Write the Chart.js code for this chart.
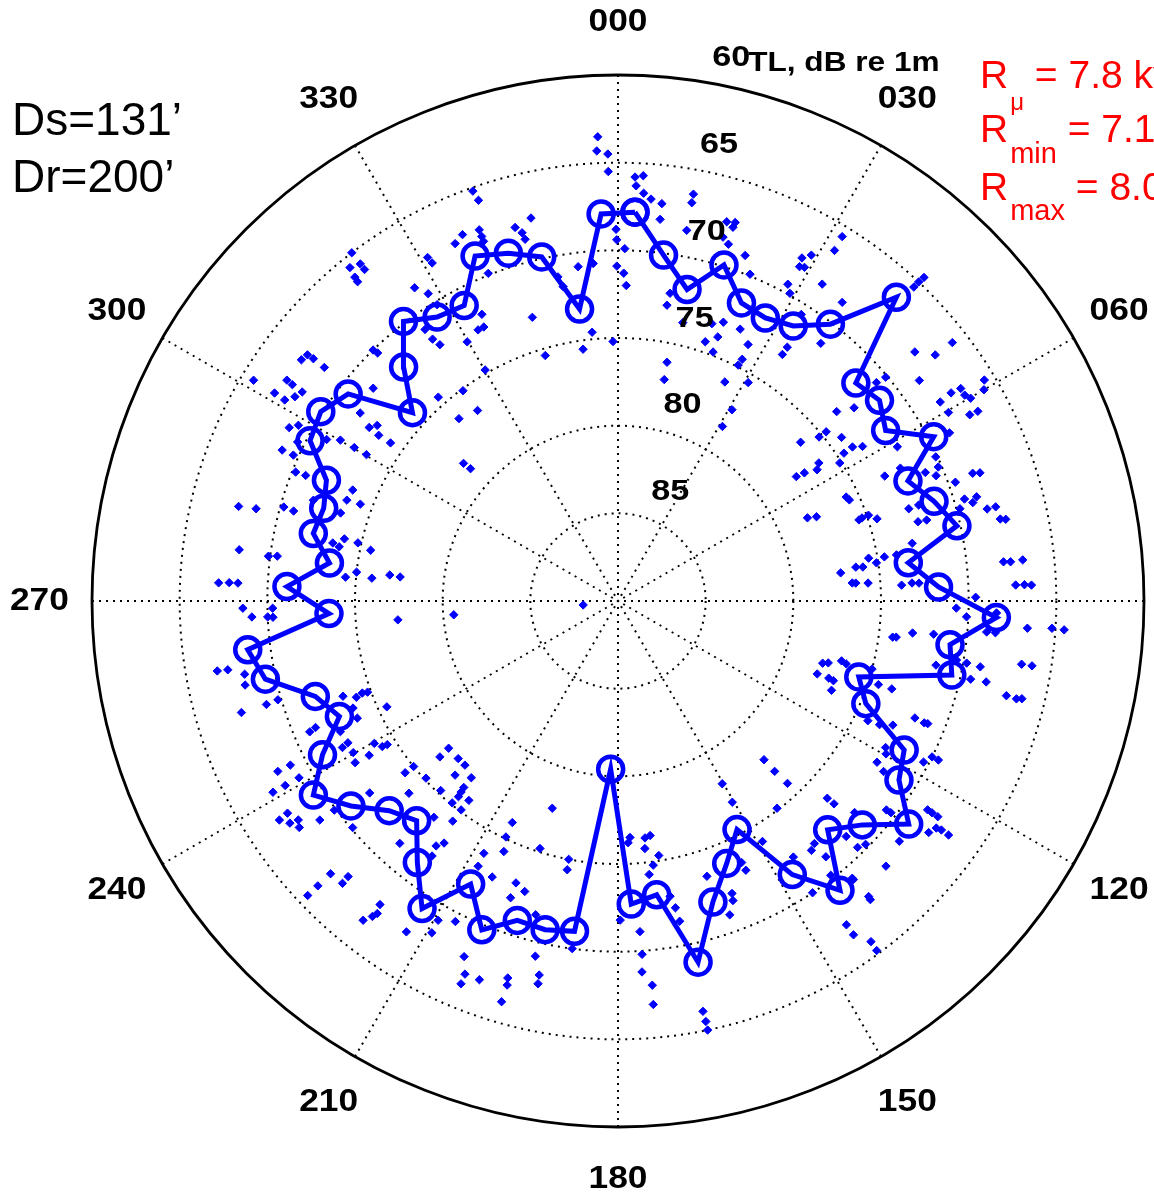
<!DOCTYPE html>
<html>
<head>
<meta charset="utf-8">
<script src="https://cdn.jsdelivr.net/npm/chart.js@4.4.1/dist/chart.umd.min.js"></script>
<style>
  html, body { margin: 0; padding: 0; background: #ffffff; overflow: hidden; }
  #tl { display: block; }
</style>
</head>
<body>
<canvas id="tl" width="1154" height="1197" style="width:1154px;height:1197px"></canvas>
<script>
// Polar transmission-loss plot: bearing in degrees clockwise from north, level in dB re 1 m.
// The radial axis is inverted: 90 dB at the centre, 60 dB on the outer circle.
const centreLevel = 90;
const outerLevel = 60;
const ringLevels = [85, 80, 75, 70, 65];
const spokeBearings = [0, 30, 60, 90, 120, 150];
const bearingTicks = [0, 30, 60, 90, 120, 150, 180, 210, 240, 270, 300, 330];
const bearingTickLabels = ['000', '030', '060', '090', '120', '150', '180', '210', '240', '270', '300', '330'];

// Averaged level per 5-degree bin
const meanBearingDeg = [
  2.5, 7.5, 12.5, 17.5, 22.5, 27.5, 32.5, 37.5, 42.5, 47.5,
  52.5, 57.5, 62.5, 67.5, 72.5, 77.5, 82.5, 87.5, 92.5, 97.5,
  102.5, 107.5, 112.5, 117.5, 122.5, 127.5, 132.5, 137.5, 142.5, 147.5,
  152.5, 157.5, 162.5, 167.5, 172.5, 177.5, 182.5, 187.5, 192.5, 197.5,
  202.5, 207.5, 212.5, 217.5, 222.5, 227.5, 232.5, 237.5, 242.5, 247.5,
  252.5, 257.5, 262.5, 267.5, 272.5, 277.5, 282.5, 287.5, 292.5, 297.5,
  302.5, 307.5, 312.5, 317.5, 322.5, 327.5, 332.5, 337.5, 342.5, 347.5,
  352.5, 357.5
];
const meanLevelDb = [
  67.8, 70.1, 71.8, 69.9, 71.6, 71.8, 71.4, 70.1, 66.5, 71.6,
  71.2, 71.9, 69.7, 72.1, 71.1, 70.2, 73.3, 71.7, 68.4, 70.9,
  70.5, 75.6, 74.7, 71.6, 71.0, 69.1, 71.1, 72.3, 69.2, 71.5,
  75.3, 73.8, 72.0, 68.9, 73.1, 72.7, 80.4, 71.0, 70.8, 70.9,
  69.7, 71.8, 69.2, 71.2, 73.0, 72.3, 70.8, 69.4, 71.0, 72.8,
  71.9, 69.4, 68.7, 73.5, 71.1, 73.4, 72.2, 72.4, 72.0, 70.2,
  69.9, 70.6, 74.1, 71.9, 69.9, 70.8, 71.0, 68.7, 69.2, 69.9,
  73.2, 67.9
];

// Individual readings [bearing deg, level dB]
const sampleReadings = [
  [322.6,65.0],[322.6,65.8],[321.2,65.6],[322.6,66.2],[320.9,66.2],[320.8,66.5],
  [357.5,63.5],[357.3,64.3],[358.7,64.5],[358.7,65.5],[340.5,65.2],[340.8,65.8],[347.2,67.6],[337.0,67.3],
  [335.5,67.6],[339.5,67.4],[339.5,67.8],[339.5,68.1],[344.6,67.9],[345.4,68.3],[345.6,68.7],[331.0,67.6],
  [331.2,68.0],[327.0,68.7],[328.3,69.4],[338.4,69.9],[353.2,70.8],[355.8,70.7],[359.7,68.8],[359.8,69.4],
  [1.1,69.9],[359.8,70.9],[1.0,71.3],[1.5,72.0],[2.3,65.8],[3.4,65.7],[2.5,66.3],[3.6,66.7],[4.7,67.0],
  [6.3,67.2],[6.3,68.1],[10.5,66.4],[10.5,66.9],[10.5,68.5],[16.0,67.5],[17.2,67.4],[17.1,67.7],[16.1,68.4],
  [17.2,68.7],[20.2,69.0],[22.0,69.9],[9.6,72.2],[349.5,71.2],[350.1,71.8],
  [31.6,65.6],[31.7,66.5],[28.2,67.8],[29.2,67.4],[28.5,68.3],[29.2,68.2],[28.2,69.5],[32.8,68.5],[29.2,69.9],
  [43.4,64.6],[43.3,65.0],[43.3,65.4],
  [307.3,67.3],[308.4,67.4],[308.5,67.8],[308.5,68.6],[301.2,65.7],[301.2,67.1],[303.7,67.3],[303.6,67.7],
  [303.5,68.4],[302.3,68.2],[301.1,67.8],[315.7,70.0],[315.9,70.3],[311.0,71.5],[306.1,71.8],[304.9,72.7],
  [306.1,73.0],[304.7,73.4],[297.8,68.8],[298.8,69.2],[296.4,69.6],[299.0,71.0],[300.1,71.7],[300.2,72.6],
  [300.2,73.4],[294.2,69.0],[294.2,69.7],[291.8,70.2],[291.9,70.8],[292.7,73.6],[290.4,73.5],[290.6,74.3],
  [288.3,71.7],[287.6,73.4],[284.0,67.7],[284.3,68.7],[285.7,70.2],[285.5,70.8],[277.7,68.2],[277.3,69.9],
  [277.5,70.4],[281.5,73.4],[282.8,74.0],[281.0,73.8],[282.6,74.8],[281.6,75.6],[275.0,74.4],[276.3,75.0],
  [275.3,75.9],[272.6,67.2],[272.7,67.8],[272.7,68.3],
  [328.6,70.2],[334.6,71.9],[332.7,72.6],[333.9,72.6],[324.6,71.0],[324.7,71.7],[325.2,72.2],[329.8,72.9],
  [343.2,73.1],[354.5,74.6],[352.1,75.5],[343.5,75.4],[358.9,75.2],[330.1,74.8],[323.6,75.1],[318.6,74.5],
  [323.6,76.5],[318.9,76.2],[304.8,74.2],[311.7,78.2],[311.9,78.7],[276.5,76.9],[276.3,77.5],[9.4,72.9],
  [13.1,73.7],[18.7,73.3],[20.7,73.0],[24.2,73.0],[20.7,73.9],[18.6,74.4],[26.9,73.6],[20.9,74.8],[27.2,74.5],
  [27.0,74.9],[11.6,76.1],[11.8,77.1],[26.0,76.1],[30.8,75.5],[30.8,77.3],[30.9,78.4],
  [36.9,68.7],[32.6,70.6],[33.7,72.6],[33.7,73.1],[38.2,71.3],[52.3,65.9],[50.0,67.9],[52.2,67.1],[53.8,68.7],
  [58.9,65.6],[60.0,65.9],[58.2,67.0],[59.3,67.0],[60.1,66.8],[58.0,67.6],[58.3,68.4],[60.3,68.3],[62.1,67.3],
  [62.2,66.8],[50.1,70.1],[49.8,70.7],[49.1,73.5],[50.7,72.6],[50.9,74.7],[50.8,75.2],[49.0,76.2],[53.8,74.2],
  [56.7,74.0],[57.7,73.5],[61.1,71.8],[56.8,74.6],[63.1,68.8],[58.1,75.1],[55.5,76.1],[56.6,76.4],[55.1,77.6],
  [55.5,77.1],[64.9,73.2],[65.6,70.1],[67.3,70.2],[67.3,71.0],[64.8,72.2],[68.5,70.5],[70.6,69.6],[70.2,68.5],
  [70.5,68.1],[65.5,75.7],[66.4,75.6],[72.4,72.6],[72.3,72.0],[73.6,69.4],[73.8,68.7],[74.5,69.0],[74.9,69.8],
  [76.0,68.3],[76.0,67.8],[77.9,67.7],[78.1,67.4],[66.3,78.2],[67.0,77.7],[71.4,75.5],[71.2,75.3],[71.1,74.9],
  [72.4,74.5],[75.2,72.3],[75.3,71.8],[78.9,72.9],[80.3,75.5],[81.6,75.1],[80.6,74.6],[81.9,76.3],[82.1,75.9],
  [82.8,77.2],[85.6,76.6],[85.7,76.4],[85.9,75.7],[86.8,73.8],[86.5,73.2],[86.6,72.8],[84.2,67.9],[84.3,67.5],
  [84.2,66.8],[87.7,67.3],[87.7,66.8],[87.8,66.4],[80.6,73.9],[89.4,69.6],
  [268.9,68.6],[267.5,69.1],[267.4,70.0],[267.3,70.3],[268.8,70.3],[260.1,66.8],[260.0,67.4],[258.9,68.3],
  [257.3,68.2],[253.5,67.6],[253.6,69.1],[253.8,69.8],[250.9,73.4],[249.8,74.1],[250.2,74.5],[250.0,74.8],
  [248.0,73.7],[245.8,73.7],[244.8,72.5],[247.0,70.9],[247.3,71.3],[242.0,72.2],[242.3,72.6],[240.2,72.6],
  [238.4,72.4],[238.2,73.3],[239.7,73.9],[238.3,74.2],[243.4,68.3],[243.4,69.1],[241.0,69.2],[241.0,68.3],
  [241.0,67.5],[232.3,72.1],[237.3,67.6],[237.1,67.0],[235.9,67.4],[235.6,67.9],[234.6,67.7],[233.7,68.9],
  [233.6,69.9],[229.5,70.1],[226.5,67.4],[224.4,68.0],[224.3,67.5],[226.5,66.4],[226.5,65.6],
  [265.1,77.4],[265.2,80.6],[263.5,88.0],[245.4,75.5],[238.1,74.5],[229.0,77.2],[228.8,76.5],[225.4,77.2],
  [223.0,77.2],[231.0,75.0],[231.1,74.4],[223.1,76.4],[219.7,76.9],[227.3,75.1],[227.4,73.8],[223.1,75.2],
  [219.6,76.2],[219.4,75.9],[219.2,75.6],[216.8,75.8],[219.4,75.1],[216.9,75.1],[216.9,74.3],[220.4,73.8],
  [205.5,76.0],[205.4,75.1],[204.5,74.3],[208.0,73.7],[216.6,72.6],[215.7,73.0],[222.0,71.4],[216.1,72.0],
  [207.8,72.9],[204.5,72.7],[199.9,72.9],[197.8,72.6],[199.9,72.0],[197.6,77.6],[197.5,75.2],[190.8,75.0],
  [190.7,74.4],[177.1,76.5],[177.6,76.2],[173.5,76.4],[172.2,76.5],[173.8,75.8],[170.9,75.3],[172.4,74.8],
  [173.5,74.3],[170.0,72.9],[150.3,78.0],[150.4,76.8],[137.4,77.7],[149.0,74.0],[154.6,73.0],[154.7,73.5],
  [162.1,73.5],[158.7,72.1],
  [91.2,70.7],[92.6,70.1],[91.8,68.4],[94.8,68.4],[94.8,68.9],[93.8,66.6],[93.6,65.2],[93.7,64.5],[97.5,74.2],
  [97.4,74.0],[96.2,73.1],[96.0,71.9],[106.9,77.8],[106.4,77.5],[105.0,76.8],[105.4,76.5],[110.1,77.9],
  [110.1,77.2],[110.3,76.9],[112.7,76.8],[105.0,75.0],[107.8,74.4],[107.8,73.6],[101.4,71.5],[99.9,70.4],
  [100.1,69.8],[100.3,69.0],[102.5,69.4],[102.4,68.5],[98.9,66.7],[98.9,66.1],[103.7,67.2],[103.8,66.6],
  [103.6,66.3],[111.5,71.8],[111.7,71.2],[111.6,71.0],[115.6,74.2],[115.3,73.5],[114.3,72.8],[118.7,72.6],
  [119.7,72.4],[121.9,72.6],[122.7,72.0],[117.8,70.3],[116.4,70.0],[116.4,69.6],[137.4,76.8],[137.1,75.8],
  [142.5,75.1],[133.3,73.6],[133.2,73.1],[131.8,71.9],[127.9,70.6],[127.8,70.3],[124.0,68.7],[124.0,68.4],
  [124.0,68.0],[126.7,67.9],[125.5,67.7],[125.3,67.4],[125.3,66.9],[135.9,71.3],[130.5,68.9],[141.0,72.2],
  [142.2,72.0],[135.8,70.4],[134.5,70.2],[145.6,72.3],[140.9,71.2],[134.7,68.5],[139.8,69.3],[139.8,69.2],
  [142.2,70.2],[146.3,70.0],[139.7,67.9],
  [212.6,67.6],[209.3,68.3],[206.9,69.5],[209.4,69.1],[203.4,67.9],[202.3,67.0],[202.3,66.4],[200.1,67.0],
  [196.3,67.6],[196.1,67.2],[196.2,66.2],[193.1,69.2],[191.9,68.2],[191.8,67.7],[194.7,71.5],[187.5,70.0],
  [179.6,71.8],[176.2,71.1],[176.1,69.8],[176.3,68.8],[174.9,68.0],[175.0,66.9],[168.3,66.1],[168.2,65.5],
  [168.2,65.0],[160.4,71.0],[159.0,71.7],[169.4,72.2],[169.1,71.4],
  [144.8,67.4],[144.8,66.7],[143.4,65.8],[143.5,65.2],[139.8,67.7],
  [218.6,66.7],[217.9,67.2],[217.6,67.5],[218.1,68.0]
];

const DEG = Math.PI / 180;
const radialSpan = centreLevel - outerLevel;

// bearing/level -> cartesian value pair in dB units from the centre (north up, clockwise)
function polarToXY(bearing, level) {
  const r = centreLevel - level;
  return { x: r * Math.sin(bearing * DEG), y: r * Math.cos(bearing * DEG) };
}

const meanPoints = meanBearingDeg.map((b, i) => polarToXY(b, meanLevelDb[i]));
meanPoints.push(meanPoints[0]); // close the loop
const samplePoints = sampleReadings.map(([b, l]) => polarToXY(b, l));

const BLUE = '#0000ff';
const LABEL_FONT = '"Liberation Sans", Arial, Helvetica, sans-serif';

function wideText(ctx, text, x, y, stretch) {
  ctx.save();
  ctx.translate(x, y);
  ctx.scale(stretch, 1);
  ctx.fillText(text, 0, 0);
  ctx.restore();
}

const polarGrid = {
  id: 'polarGrid',
  beforeDatasetsDraw(chart) {
    const ctx = chart.ctx;
    const xs = chart.scales.x, ys = chart.scales.y;
    const cx = xs.getPixelForValue(0), cy = ys.getPixelForValue(0);
    const px = (v) => xs.getPixelForValue(v) - cx;
    ctx.save();
    ctx.strokeStyle = '#000000';
    ctx.lineWidth = 2;
    ctx.setLineDash([2, 5]);
    ringLevels.forEach((lvl) => {
      ctx.beginPath();
      ctx.arc(cx, cy, px(centreLevel - lvl), 0, Math.PI * 2);
      ctx.stroke();
    });
    spokeBearings.forEach((b) => {
      const a = b * DEG;
      ctx.beginPath();
      ctx.moveTo(xs.getPixelForValue(-radialSpan * Math.sin(a)), ys.getPixelForValue(-radialSpan * Math.cos(a)));
      ctx.lineTo(xs.getPixelForValue(radialSpan * Math.sin(a)), ys.getPixelForValue(radialSpan * Math.cos(a)));
      ctx.stroke();
    });
    ctx.setLineDash([]);
    ctx.lineWidth = 2.8;
    ctx.beginPath();
    ctx.arc(cx, cy, px(radialSpan), 0, Math.PI * 2);
    ctx.stroke();
    ctx.restore();
  },
  afterDraw(chart) {
    const ctx = chart.ctx;
    const xs = chart.scales.x, ys = chart.scales.y;
    const cx = xs.getPixelForValue(0), cy = ys.getPixelForValue(0);
    const unit = xs.getPixelForValue(1) - cx;
    ctx.save();
    ctx.fillStyle = '#000000';

    // bearing labels just outside the outer circle
    ctx.font = 'bold 31px ' + LABEL_FONT;
    ctx.textAlign = 'center';
    ctx.textBaseline = 'middle';
    bearingTicks.forEach((b, i) => {
      if (bearingTickLabels[i] === '090') return;
      const p = polarToXY(b, centreLevel - radialSpan * 1.1);
      wideText(ctx, bearingTickLabels[i], xs.getPixelForValue(p.x), ys.getPixelForValue(p.y), 1.14);
    });

    // ring level labels along the 82 degree (math angle) line
    ctx.font = 'bold 29px ' + LABEL_FONT;
    ctx.textAlign = 'left';
    ctx.textBaseline = 'alphabetic';
    const a82 = 82 * DEG;
    [outerLevel].concat(ringLevels.slice().reverse()).forEach((lvl) => {
      const r = (centreLevel - lvl) * unit;
      const lx = cx + r * Math.cos(a82) + 21;
      const ly = cy - r * Math.sin(a82) - 14;
      wideText(ctx, String(lvl), lx, ly, 1.18);
      if (lvl === outerLevel) {
        ctx.font = 'bold 27px ' + LABEL_FONT;
        wideText(ctx, 'TL, dB re 1m', lx + 36, ly + 5, 1.17);
        ctx.font = 'bold 29px ' + LABEL_FONT;
      }
    });

    // geometry note
    ctx.font = '46px ' + LABEL_FONT;
    ctx.fillText('Ds=131\u2019', 12, 135);
    ctx.fillText('Dr=200\u2019', 12, 192);

    // range summary
    ctx.fillStyle = '#ff0000';
    const rows = [
      { sub: '\u03bc', subFont: '24px ', subDy: 22, value: ' = 7.8 kyd', base: 88 },
      { sub: 'min', subFont: '29px ', subDy: 21, value: ' = 7.1 kyd', base: 142 },
      { sub: 'max', subFont: '29px ', subDy: 20, value: ' = 8.0 kyd', base: 200 }
    ];
    rows.forEach((row) => {
      let x = 980;
      ctx.font = '39px ' + LABEL_FONT;
      ctx.fillText('R', x, row.base);
      x += ctx.measureText('R').width;
      ctx.font = row.subFont + LABEL_FONT;
      ctx.fillText(row.sub, x + 2, row.base + row.subDy);
      x += ctx.measureText(row.sub).width + 2;
      ctx.font = '39px ' + LABEL_FONT;
      ctx.fillText(row.value, x, row.base);
    });
    ctx.restore();
  }
};

new Chart(document.getElementById('tl'), {
  type: 'scatter',
  data: {
    datasets: [
      {
        label: 'Readings',
        data: samplePoints,
        showLine: false,
        pointStyle: 'rectRot',
        pointRadius: 4.2,
        pointBackgroundColor: BLUE,
        pointBorderColor: BLUE,
        pointBorderWidth: 1,
        clip: false
      },
      {
        label: 'Mean TL',
        data: meanPoints,
        showLine: true,
        borderColor: BLUE,
        borderWidth: 5,
        tension: 0,
        pointStyle: 'circle',
        pointRadius: 12.5,
        pointBorderWidth: 4.5,
        pointBorderColor: BLUE,
        pointBackgroundColor: 'rgba(0,0,0,0)',
        clip: false
      }
    ]
  },
  options: {
    responsive: false,
    maintainAspectRatio: false,
    devicePixelRatio: 1,
    animation: false,
    layout: { autoPadding: false, padding: { left: 92, right: 10, top: 75, bottom: 70 } },
    scales: {
      x: { type: 'linear', min: -radialSpan, max: radialSpan, display: false },
      y: { type: 'linear', min: -radialSpan, max: radialSpan, display: false }
    },
    plugins: {
      legend: { display: false },
      tooltip: { enabled: false }
    }
  },
  plugins: [polarGrid]
});
</script>
</body>
</html>
